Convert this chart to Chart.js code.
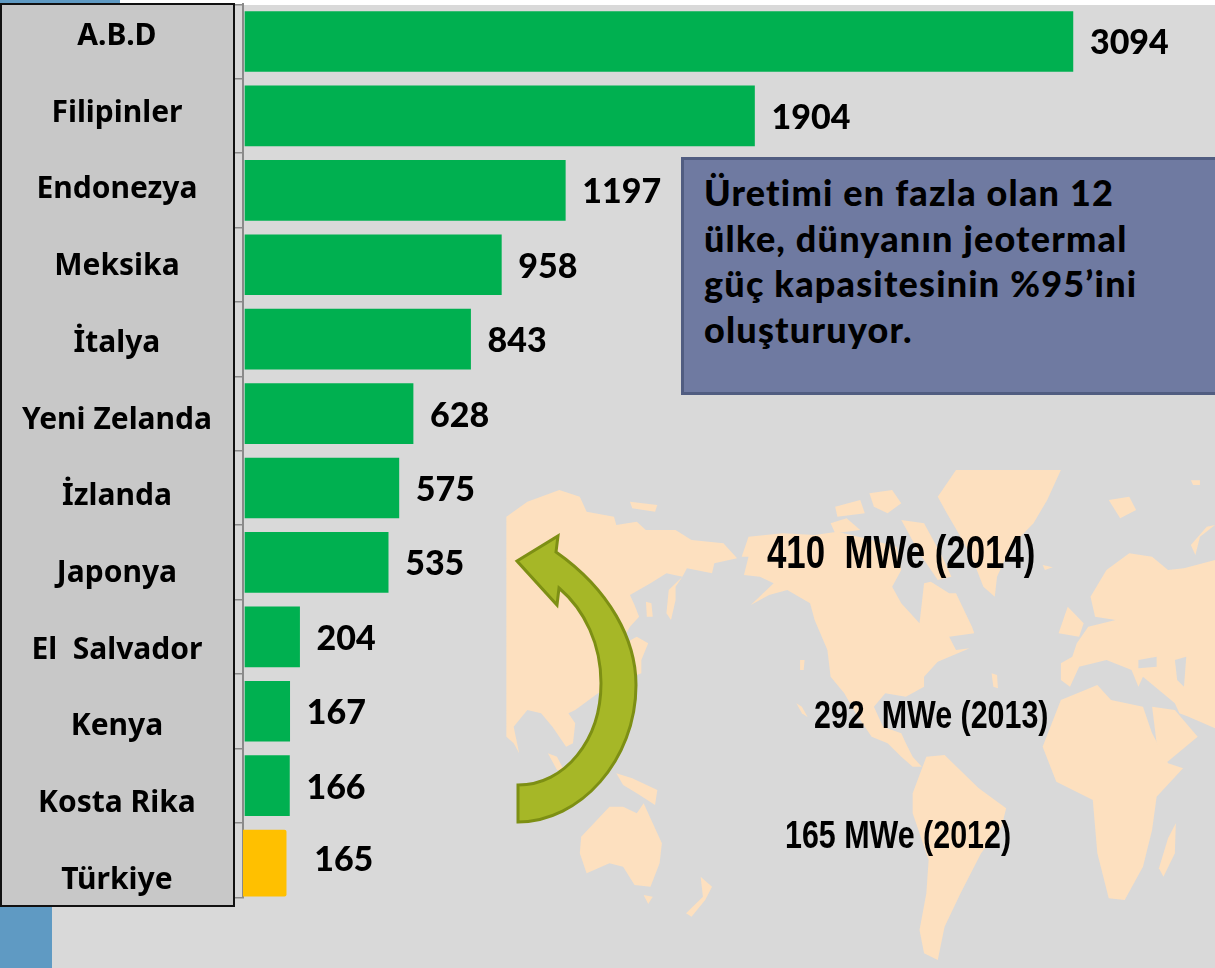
<!DOCTYPE html>
<html lang="tr"><head><meta charset="utf-8">
<script src="https://cdn.jsdelivr.net/npm/chart.js@4/dist/chart.umd.min.js"></script>
<style>
html,body{margin:0;padding:0;background:#fff;overflow:hidden}
#wrap{position:relative;width:1215px;height:968px;overflow:hidden}
canvas{position:absolute;left:0;top:0}
#callout{position:absolute;left:681px;top:157px;width:540px;height:238px;box-sizing:border-box;background:#6f7aa1;border:3px solid #515d81;
 font:900 36px/45.5px Lato,sans-serif;color:#000;padding:10px 0 0 20px;white-space:pre;letter-spacing:1.2px}
.note{position:absolute;font-family:"Liberation Sans",sans-serif;font-weight:bold;color:#000;white-space:pre;line-height:1;transform-origin:left top}
</style></head><body>
<div id="wrap">
<canvas id="c" width="1215" height="968"></canvas>
<div id="callout">Üretimi en fazla olan 12
ülke, dünyanın jeotermal
güç kapasitesinin %95’ini
oluşturuyor.</div>
<div class="note" style="left:767px;top:529px;font-size:46px;transform:scaleX(.757)">410  MWe (2014)</div>
<div class="note" style="left:814px;top:695px;font-size:39px;transform:scaleX(.78)">292  MWe (2013)</div>
<div class="note" style="left:785px;top:815px;font-size:39px;transform:scaleX(.78)">165 MWe (2012)</div>
</div>
<script>
const categories = ["A.B.D","Filipinler","Endonezya","Meksika","İtalya","Yeni Zelanda","İzlanda","Japonya","El  Salvador","Kenya","Kosta Rika","Türkiye"];
const capacity = [3094,1904,1197,958,843,628,575,535,204,167,166,165];
const highlight = "Türkiye";

const GREEN="#00b050", GOLD="#ffc000";
const PEACH="#fde0bf", BG="#d9d9d9";

// decorative world map outline (zoomed-crop coordinates, mapped to the page)
const land = [
 [[14,110],[40,85],[60,65],[130,30],[175,50],[190,95],[250,110],[255,135],[300,125],[320,150],[385,150],[420,180],[490,190],[520,235],[470,250],[465,280],[410,265],[400,290],[365,280],[330,310],[285,345],[295,375],[305,410],[285,440],[260,500],[300,470],[325,490],[310,540],[310,580],[270,600],[215,640],[165,690],[150,700],[165,730],[160,790],[145,800],[115,740],[90,700],[60,690],[30,740],[42,820],[30,790],[14,770]],
 [[385,320],[400,290],[370,330],[365,400],[375,420],[385,360]],
 [[320,365],[332,370],[335,410],[322,410]],
 [[105,820],[125,830],[140,870],[125,870]],
 [[255,880],[290,895],[345,930],[340,975],[300,940],[270,915]],
 [[178,1070],[240,980],[270,980],[300,1000],[315,970],[355,1090],[350,1150],[330,1220],[295,1215],[270,1160],[240,1150],[190,1180],[175,1120]],
 [[315,1245],[335,1250],[325,1272]],
 [[440,1190],[465,1220],[450,1260],[420,1310],[408,1300],[445,1250]],
 [[285,65],[345,75],[340,95],[290,85]],
 [[535,285],[545,230],[530,230],[545,170],[620,160],[690,165],[740,155],[800,175],[870,200],[880,270],[860,320],[880,370],[920,430],[930,310],[945,305],[985,340],[1000,340],[1035,440],[1040,460],[985,470],[1000,510],[1030,505],[960,545],[930,590],[930,620],[890,650],[845,640],[820,680],[840,740],[880,760],[890,790],[905,830],[925,860],[905,860],[880,830],[850,790],[815,770],[780,700],[755,640],[725,590],[718,510],[690,420],[680,370],[630,330],[590,345],[550,375],[600,310],[570,290]],
 [[735,80],[790,60],[800,100],[740,110]],
 [[810,40],[860,30],[880,70],[850,100],[820,80]],
 [[880,120],[930,130],[970,230],[990,290],[960,300],[920,220]],
 [[725,130],[760,115],[790,150],[735,160]],
 [[960,50],[1000,-30],[1230,-30],[1200,60],[1170,130],[1120,200],[1090,290],[1085,350],[1060,320],[1040,250],[1010,170],[980,100]],
 [[1335,60],[1380,50],[1395,90],[1360,115]],
 [[1190,255],[1212,262],[1195,270]],
 [[1295,350],[1330,270],[1380,220],[1430,230],[1465,270],[1500,265],[1568,240],[1568,745],[1510,710],[1490,700],[1480,670],[1410,590],[1400,620],[1385,570],[1330,540],[1270,560],[1250,620],[1230,600],[1230,550],[1255,530],[1265,490],[1290,440],[1350,420],[1305,410]],
 [[1430,680],[1480,690],[1530,770],[1460,850],[1440,790]],
 [[1225,460],[1245,380],[1280,430],[1270,470]],
 [[1190,800],[1230,660],[1310,615],[1340,660],[1410,680],[1430,760],[1465,850],[1498,865],[1440,950],[1430,1050],[1410,1160],[1370,1260],[1335,1255],[1310,1120],[1300,960],[1220,905]],
 [[1465,1075],[1482,1030],[1480,1120],[1455,1190],[1445,1165]],
 [[905,940],[935,830],[975,825],[1050,925],[1110,985],[1100,1040],[1055,1120],[1010,1240],[975,1340],[960,1440],[930,1420],[920,1350],[935,1240],[940,1140],[905,1000]],
 [[658,540],[668,540],[666,570],[658,570]],
 [[650,670],[662,680],[675,712],[662,700]],
 [[1078,580],[1090,585],[1092,625],[1082,620]],
 [[1515,195],[1550,140],[1568,135],[1535,170],[1525,225]],
 [[1515,1],[1535,1],[1535,15],[1520,15]]
];
const water = [
 [[1480,540],[1505,530],[1500,620],[1485,600]],
 [[1400,540],[1440,530],[1440,560],[1400,565]]
];
const mx=x=>500+x/2.193, my=y=>480+y/3;
function poly(ctx,p,fill){ctx.beginPath();p.forEach((q,i)=>i?ctx.lineTo(mx(q[0]),my(q[1])):ctx.moveTo(mx(q[0]),my(q[1])));ctx.closePath();ctx.fillStyle=fill;ctx.fill();}

const backdrop = {
 id:'backdrop',
 beforeDraw(chart){
  const ctx=chart.ctx; ctx.save();
  ctx.fillStyle='#fff'; ctx.fillRect(0,0,1215,968);
  ctx.fillStyle=BG; ctx.fillRect(0,5,1215,963);
  ctx.fillStyle='#5f9ac3'; ctx.fillRect(0,0,120,3); ctx.fillRect(0,0,52,968);
  ctx.save(); ctx.beginPath(); ctx.rect(506,0,709,968); ctx.clip();
  land.forEach(p=>poly(ctx,p,PEACH)); water.forEach(p=>poly(ctx,p,BG));
  ctx.restore();
  // curved arrow
  ctx.beginPath(); ctx.moveTo(517,561); ctx.lineTo(558,536); ctx.lineTo(556,552);
  ctx.bezierCurveTo(610,590,636,640,636,685); ctx.bezierCurveTo(636,760,580,822,518,822);
  ctx.lineTo(518,785); ctx.bezierCurveTo(565,785,601,740,601,683); ctx.bezierCurveTo(601,645,585,610,559,588);
  ctx.lineTo(557,605); ctx.closePath();
  ctx.fillStyle='#a6b727'; ctx.fill(); ctx.lineWidth=3; ctx.strokeStyle='#7d8f14'; ctx.stroke();
  // label panel
  ctx.fillStyle='#c8c8c8'; ctx.fillRect(1,4,233,902);
  ctx.lineWidth=2; ctx.strokeStyle='#111'; ctx.strokeRect(1,4,233,902);
  ctx.restore();
 }
};
const labelAxisSpread = {
 id:'labelAxisSpread',
 afterLayout(chart){
  const s=chart.scales.yL;
  s._startPixel=-1.85; s._length=920.4; s._labelItems=null;
 }
};
const highlightBar = {
 id:'highlightBar',
 afterDatasetsUpdate(chart){
  const i=categories.indexOf(highlight);
  const el=chart.getDatasetMeta(0).data[i];
  el.base-=3; el.x-=3; el.height=66; el.y+=3;
 }
};
const valueLabels = {
 id:'valueLabels',
 afterDatasetsDraw(chart){
  const ctx=chart.ctx; ctx.save();
  ctx.font='900 34px Lato,sans-serif'; ctx.fillStyle='#000'; ctx.textBaseline='middle'; ctx.textAlign='left';
  chart.getDatasetMeta(0).data.forEach((el,i)=>{
   const isH=categories[i]===highlight;
   ctx.fillText(String(capacity[i]),el.x+(isH?28:17),el.y+(isH?-3:2));
  });
  ctx.restore();
 }
};
const noPad=s=>{s.paddingTop=0;s.paddingBottom=0;};

new Chart(document.getElementById('c'),{
 type:'bar',
 data:{labels:categories,datasets:[{
  data:capacity,yAxisID:'y',xAxisID:'x',
  backgroundColor:categories.map(c=>c===highlight?GOLD:GREEN),
  borderRadius:categories.map(c=>c===highlight?2:0),
  barThickness:60
 }]},
 plugins:[backdrop,labelAxisSpread,highlightBar,valueLabels],
 options:{
  indexAxis:'y',responsive:false,animation:false,
  layout:{autoPadding:false,padding:{top:4.3,bottom:70.7,left:0,right:0}},
  plugins:{legend:{display:false},tooltip:{enabled:false},title:{display:false},subtitle:{display:false}},
  scales:{
   x:{type:'linear',display:false,min:-7.5,max:3625,position:'bottom'},
   y:{type:'category',weight:0,offset:true,
      afterFit:s=>{s.width=8;noPad(s);},
      border:{display:true,color:'#8a8a8a',width:2},
      grid:{drawOnChartArea:false,drawTicks:true,tickLength:8,color:'#8a8a8a',lineWidth:1.5,offset:true},
      ticks:{display:false}},
   yL:{type:'category',labels:categories,weight:1,offset:true,position:'left',
      afterFit:s=>{s.width=235;noPad(s);},
      border:{display:false},grid:{display:false,drawTicks:false},
      ticks:{autoSkip:false,crossAlign:'center',padding:23,color:'#000',font:{family:'"Noto Sans"',size:30,weight:'700'}}}
  }
 }
});
</script>
</body></html>
